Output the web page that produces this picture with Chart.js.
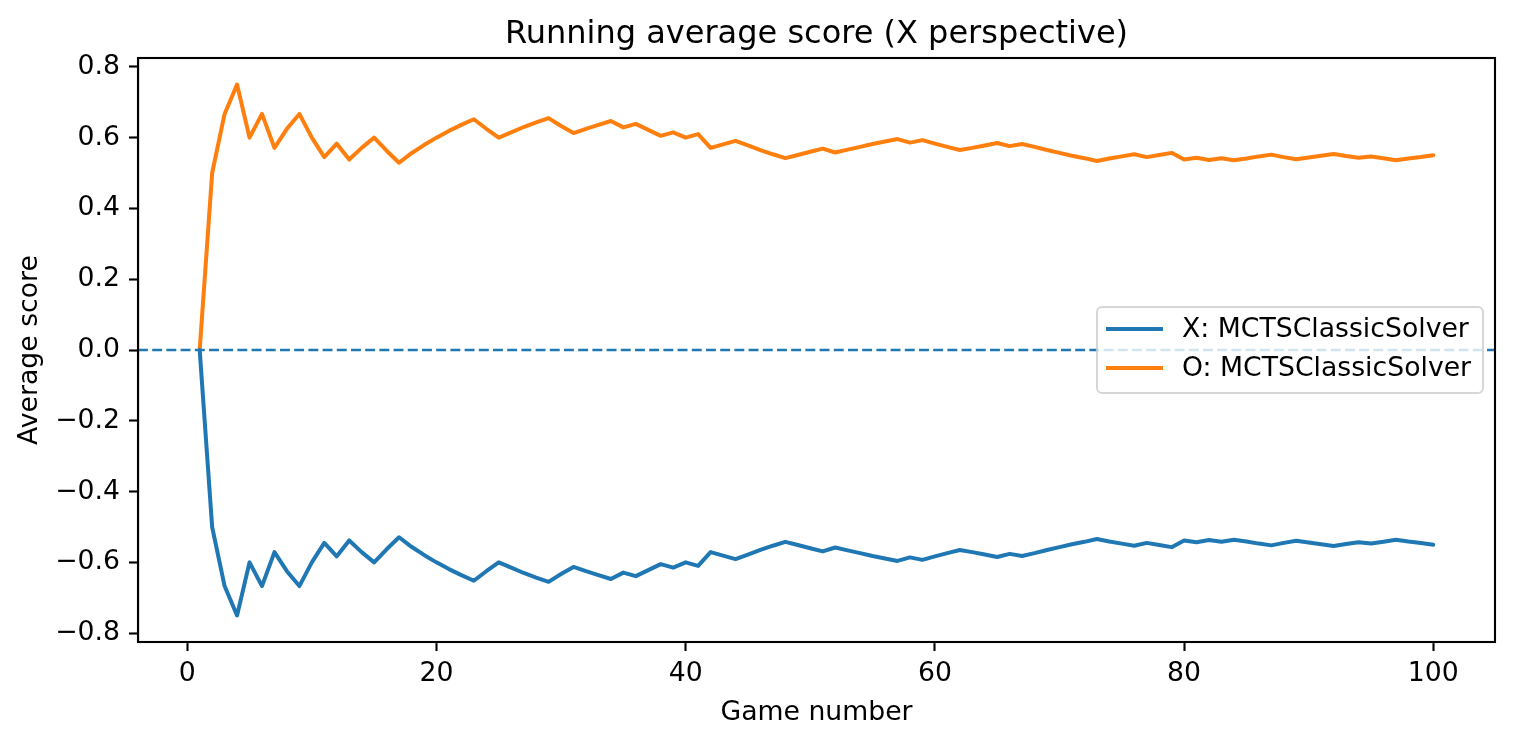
<!DOCTYPE html>
<html>
<head>
<meta charset="utf-8">
<script src="https://cdn.jsdelivr.net/npm/chart.js@4.4.1/dist/chart.umd.min.js"></script>
<style>
  html, body { margin: 0; padding: 0; background: #fff; }
  #wrap { width: 1514px; height: 744px; }
</style>
</head>
<body>
<div id="wrap"><canvas id="grafico" width="1514" height="744"></canvas></div>
<script>
// valores (média acumulada por partida)
const gameNumbers = Array.from({ length: 100 }, (_, i) => i + 1);

const xScores = [
  0, -0.5, -0.667, -0.75, -0.6, -0.667, -0.571, -0.625, -0.667, -0.6,
  -0.545, -0.583, -0.538, -0.571, -0.6, -0.563, -0.529, -0.556, -0.579, -0.6,
  -0.619, -0.636, -0.652, -0.625, -0.6, -0.615, -0.63, -0.643, -0.655, -0.633,
  -0.613, -0.625, -0.636, -0.647, -0.629, -0.639, -0.622, -0.605, -0.615, -0.6,
  -0.61, -0.571, -0.581, -0.591, -0.578, -0.565, -0.553, -0.542, -0.551, -0.56,
  -0.569, -0.558, -0.566, -0.574, -0.582, -0.589, -0.596, -0.586, -0.593, -0.583,
  -0.574, -0.565, -0.571, -0.578, -0.585, -0.576, -0.582, -0.574, -0.565, -0.557,
  -0.549, -0.542, -0.534, -0.541, -0.547, -0.553, -0.545, -0.551, -0.557, -0.538,
  -0.543, -0.537, -0.542, -0.536, -0.541, -0.547, -0.552, -0.545, -0.539, -0.544,
  -0.549, -0.554, -0.548, -0.543, -0.547, -0.542, -0.536, -0.541, -0.545, -0.55
];

const oScores = [
  0, 0.5, 0.667, 0.75, 0.6, 0.667, 0.571, 0.625, 0.667, 0.6,
  0.545, 0.583, 0.538, 0.571, 0.6, 0.563, 0.529, 0.556, 0.579, 0.6,
  0.619, 0.636, 0.652, 0.625, 0.6, 0.615, 0.63, 0.643, 0.655, 0.633,
  0.613, 0.625, 0.636, 0.647, 0.629, 0.639, 0.622, 0.605, 0.615, 0.6,
  0.61, 0.571, 0.581, 0.591, 0.578, 0.565, 0.553, 0.542, 0.551, 0.56,
  0.569, 0.558, 0.566, 0.574, 0.582, 0.589, 0.596, 0.586, 0.593, 0.583,
  0.574, 0.565, 0.571, 0.578, 0.585, 0.576, 0.582, 0.574, 0.565, 0.557,
  0.549, 0.542, 0.534, 0.541, 0.547, 0.553, 0.545, 0.551, 0.557, 0.538,
  0.543, 0.537, 0.542, 0.536, 0.541, 0.547, 0.552, 0.545, 0.539, 0.544,
  0.549, 0.554, 0.548, 0.543, 0.547, 0.542, 0.536, 0.541, 0.545, 0.55
];

const seriesNames = ['X: MCTSClassicSolver', 'O: MCTSClassicSolver'];
const xTicks = [0, 20, 40, 60, 80, 100];
const yTicks = [-0.8, -0.6, -0.4, -0.2, 0, 0.2, 0.4, 0.6, 0.8];

const AZUL = '#1f77b4';
const LARANJA = '#ff7f0e';
const FONTE = "'DejaVu Sans', sans-serif";
const TAM = 26.7; // tamanho da fonte dos rótulos

Chart.defaults.color = '#000';
Chart.defaults.font.family = FONTE;

function pontos(valores) {
  return gameNumbers.map((g, i) => ({ x: g, y: valores[i] }));
}

// linha tracejada em y = 0, moldura completa e legenda
const extras = {
  id: 'extras',
  beforeDatasetsDraw(chart) {
    const { ctx, chartArea: a, scales: { y } } = chart;
    const py = y.getPixelForValue(0);
    ctx.save();
    ctx.strokeStyle = AZUL;
    ctx.lineWidth = 2.5;
    ctx.setLineDash([9.9, 4.3]);
    ctx.beginPath();
    ctx.moveTo(a.left, py);
    ctx.lineTo(a.right, py);
    ctx.stroke();
    ctx.restore();
  },
  afterDatasetsDraw(chart) {
    const { ctx, chartArea: a } = chart;
    ctx.save();
    ctx.strokeStyle = '#000';
    ctx.lineWidth = 2.1;
    ctx.strokeRect(a.left, a.top, a.right - a.left, a.bottom - a.top);

    const w = 386, h = 86;
    const bx = a.right - 12 - w;
    const by = (a.top + a.bottom) / 2 - h / 2;
    ctx.fillStyle = 'rgba(255,255,255,0.8)';
    ctx.strokeStyle = 'rgba(204,204,204,0.8)';
    ctx.lineWidth = 2;
    ctx.beginPath();
    ctx.roundRect(bx, by, w, h, 5);
    ctx.fill();
    ctx.stroke();

    const cores = [AZUL, LARANJA];
    ctx.font = TAM + 'px ' + FONTE;
    ctx.textBaseline = 'middle';
    ctx.textAlign = 'left';
    seriesNames.forEach((nome, i) => {
      const ly = by + 22 + i * 39;
      ctx.strokeStyle = cores[i];
      ctx.lineWidth = 4;
      ctx.beginPath();
      ctx.moveTo(bx + 9, ly);
      ctx.lineTo(bx + 66, ly);
      ctx.stroke();
      ctx.fillStyle = '#000';
      ctx.fillText(nome, bx + 85, ly + 1);
    });
    ctx.restore();
  }
};

new Chart(document.getElementById('grafico').getContext('2d'), {
  type: 'line',
  data: {
    datasets: [
      { label: seriesNames[0], data: pontos(xScores), borderColor: AZUL, borderWidth: 4 },
      { label: seriesNames[1], data: pontos(oScores), borderColor: LARANJA, borderWidth: 4 }
    ]
  },
  options: {
    responsive: false,
    animation: false,
    devicePixelRatio: 1,
    layout: { padding: { left: 0, right: 19, top: 0, bottom: 0 } },
    elements: { point: { radius: 0 }, line: { tension: 0, borderJoinStyle: 'round', borderCapStyle: 'round' } },
    plugins: {
      legend: { display: false },
      tooltip: { enabled: false },
      title: {
        display: true,
        fullSize: false, // centraliza sobre a área do gráfico
        text: 'Running average score (X perspective)',
        font: { size: 32, weight: 'normal', family: FONTE },
        color: '#000',
        padding: { top: 15, bottom: 4.6 }
      }
    },
    scales: {
      x: {
        type: 'linear',
        min: -3.95,
        max: 104.95,
        afterBuildTicks: s => { s.ticks = xTicks.map(v => ({ value: v })); },
        afterFit: s => { s.height = 102; },
        grid: { drawOnChartArea: false, drawTicks: true, tickLength: 9, tickWidth: 2.1, tickColor: '#000' },
        border: { display: true, color: '#000', width: 2.1 },
        ticks: { padding: 7, font: { size: TAM }, maxRotation: 0, callback: v => String(v) },
        title: { display: true, text: 'Game number', font: { size: TAM }, padding: { bottom: 15 } }
      },
      y: {
        min: -0.825,
        max: 0.825,
        afterBuildTicks: s => { s.ticks = yTicks.map(v => ({ value: v })); },
        afterFit: s => { s.width = 138; },
        grid: { drawOnChartArea: false, drawTicks: true, tickLength: 9, tickWidth: 2.1, tickColor: '#000' },
        border: { display: true, color: '#000', width: 2.1 },
        ticks: { padding: 9, font: { size: TAM }, callback: v => v.toFixed(1).replace('-', '\u2212') },
        title: { display: true, text: 'Average score', font: { size: TAM }, padding: { top: 14 } }
      }
    }
  },
  plugins: [extras]
});
</script>
</body>
</html>
